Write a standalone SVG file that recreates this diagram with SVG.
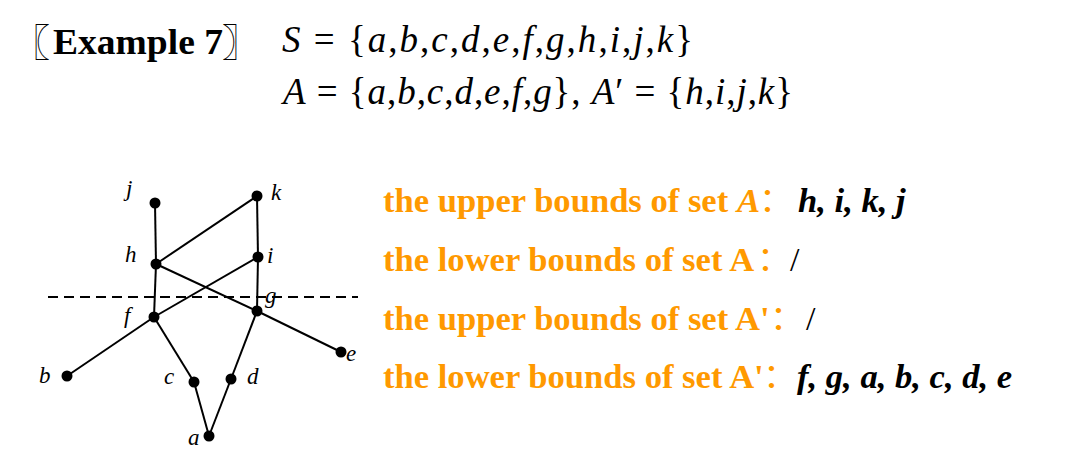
<svg xmlns="http://www.w3.org/2000/svg" width="1068" height="475" viewBox="0 0 1068 475">
<style>
.bg{fill:#ffffff}
.serif{font-family:"Liberation Serif","Times New Roman",serif}
.cjk{font-family:"Noto Sans CJK SC","Noto Sans CJK JP",sans-serif}
.title{font-size:35px;font-weight:bold;fill:#000}
.math{font-size:37px;fill:#000}
.it{font-style:italic}
.org{font-size:34.6px;font-weight:bold;fill:#FF9900}
.colon{font-size:34px;font-weight:normal;fill:#FF9900}
.ans{font-size:34.6px;font-weight:bold;font-style:italic;fill:#000}
.slash{font-size:34px;fill:#000}
.edge{stroke:#000;stroke-width:2;fill:none}
.dash{stroke:#000;stroke-width:2;stroke-dasharray:10 6;fill:none}
.dot{fill:#000}
.lbl{font-family:"Liberation Serif","Times New Roman",serif;font-style:italic;font-size:23px;fill:#000}
</style>
<rect class="bg" x="0" y="0" width="1068" height="475"/>

<g id="title">
  <text class="cjk" x="50" y="56" font-size="38" text-anchor="end" fill="#000">〖</text>
  <text class="serif title" x="53" y="54" textLength="170" lengthAdjust="spacingAndGlyphs">Example 7</text>
  <text class="cjk" x="222" y="56" font-size="38" fill="#000">〗</text>
</g>

<g id="sets">
  <text class="serif math" x="282" y="52" textLength="411" lengthAdjust="spacing"><tspan class="it">S</tspan> = {<tspan class="it">a</tspan>,<tspan class="it">b</tspan>,<tspan class="it">c</tspan>,<tspan class="it">d</tspan>,<tspan class="it">e</tspan>,<tspan class="it">f</tspan>,<tspan class="it">g</tspan>,<tspan class="it">h</tspan>,<tspan class="it">i</tspan>,<tspan class="it">j</tspan>,<tspan class="it">k</tspan>}</text>
  <text class="serif math" x="283" y="104" textLength="510" lengthAdjust="spacing"><tspan class="it">A</tspan> = {<tspan class="it">a</tspan>,<tspan class="it">b</tspan>,<tspan class="it">c</tspan>,<tspan class="it">d</tspan>,<tspan class="it">e</tspan>,<tspan class="it">f</tspan>,<tspan class="it">g</tspan>}, <tspan class="it">A</tspan>′ = {<tspan class="it">h</tspan>,<tspan class="it">i</tspan>,<tspan class="it">j</tspan>,<tspan class="it">k</tspan>}</text>
</g>

<g id="connectors">
  <line class="dash" x1="48" y1="297" x2="358" y2="297"/>
  <line class="edge" x1="155" y1="203" x2="156" y2="264"/>
  <line class="edge" x1="156" y1="264" x2="154" y2="317"/>
  <line class="edge" x1="156" y1="264" x2="257" y2="196"/>
  <line class="edge" x1="257" y1="196" x2="258" y2="257"/>
  <line class="edge" x1="258" y1="257" x2="257" y2="311"/>
  <line class="edge" x1="156" y1="264" x2="257" y2="311"/>
  <line class="edge" x1="257" y1="311" x2="341" y2="352"/>
  <line class="edge" x1="67" y1="376" x2="154" y2="317"/>
  <line class="edge" x1="154" y1="317" x2="258" y2="257"/>
  <line class="edge" x1="154" y1="317" x2="194" y2="382"/>
  <line class="edge" x1="194" y1="382" x2="209" y2="436"/>
  <line class="edge" x1="209" y1="436" x2="231" y2="379"/>
  <line class="edge" x1="231" y1="379" x2="257" y2="311"/>
</g>

<g id="node-j"><circle class="dot" cx="155" cy="203" r="5.5"/><text class="lbl" x="126" y="196">j</text></g>
<g id="node-k"><circle class="dot" cx="257" cy="196" r="5.5"/><text class="lbl" x="271" y="200">k</text></g>
<g id="node-h"><circle class="dot" cx="156" cy="264" r="5.5"/><text class="lbl" x="125" y="262">h</text></g>
<g id="node-i"><circle class="dot" cx="258" cy="257" r="5.5"/><text class="lbl" x="267" y="263">i</text></g>
<g id="node-g"><circle class="dot" cx="257" cy="311" r="5.5"/><text class="lbl" x="265" y="303">g</text></g>
<g id="node-f"><circle class="dot" cx="154" cy="317" r="5.5"/><text class="lbl" x="124" y="323">f</text></g>
<g id="node-b"><circle class="dot" cx="67" cy="376" r="5.5"/><text class="lbl" x="39" y="383">b</text></g>
<g id="node-c"><circle class="dot" cx="194" cy="382" r="5.5"/><text class="lbl" x="164" y="384">c</text></g>
<g id="node-d"><circle class="dot" cx="231" cy="379" r="5.5"/><text class="lbl" x="247" y="384">d</text></g>
<g id="node-e"><circle class="dot" cx="341" cy="352" r="5.5"/><text class="lbl" x="346" y="361">e</text></g>
<g id="node-a"><circle class="dot" cx="209" cy="436" r="5.5"/><text class="lbl" x="188" y="445">a</text></g>

<g id="bounds">
  <text class="serif org" x="383" y="212">the upper bounds of set <tspan class="it">A</tspan></text>
  <text class="cjk colon" x="759" y="212">：</text>
  <text class="serif ans" x="798" y="212">h, i, k, j</text>

  <text class="serif org" x="383" y="271">the lower bounds of set A</text>
  <text class="cjk colon" x="757" y="271">：</text>
  <text class="serif slash" x="790" y="271">/</text>

  <text class="serif org" x="383" y="330">the upper bounds of set A'</text>
  <text class="cjk colon" x="770" y="330">：</text>
  <text class="serif slash" x="806" y="330">/</text>

  <text class="serif org" x="383" y="388">the lower bounds of set A'</text>
  <text class="cjk colon" x="763" y="388">：</text>
  <text class="serif ans" x="797" y="388">f, g, a, b, c, d, e</text>
</g>
</svg>
